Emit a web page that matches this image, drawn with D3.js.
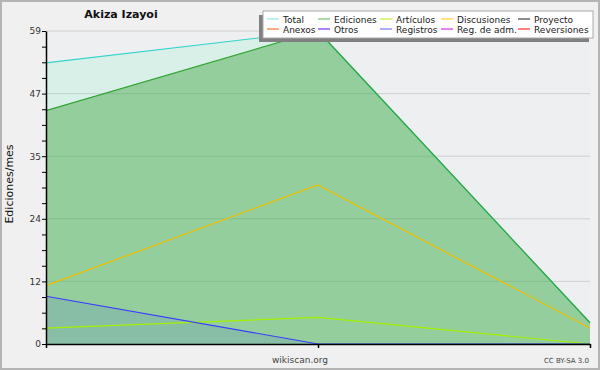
<!DOCTYPE html>
<html>
<head>
<meta charset="utf-8">
<script src="https://cdn.jsdelivr.net/npm/d3@7"></script>
<style>
  body { margin: 0; background: #f0f0f0; }
  svg { display: block; font-family: "DejaVu Sans", sans-serif; }
  .Legend text { font-size: 9px; fill: #222; }
</style>
</head>
<body>
<svg id="chart" width="600" height="370"></svg>
<script>
const TITLE = "Akiza Izayoi";
const Y_LABEL = "Ediciones/mes";

// three monthly points, x axis has no labels in the picture
const periods = ["m1", "m2", "m3"];
const total = [53, 59, 4];
const edits = [44, 59, 4];
const discussions = [11, 30, 3];
const articles = [3, 5, 0];
const registros = [9, 0, 0];

const Y_MAX = 59;

const legendNames = [
  ["Total", "Ediciones", "Artículos", "Discusiones", "Proyecto"],
  ["Anexos", "Otros", "Registros", "Reg. de adm.", "Reversiones"]
];
const legendColors = [
  ["#a6e8e4", "#8ed08e", "#d2f25a", "#ffd65a", "#666666"],
  ["#ff935a", "#935aff", "#9393ff", "#e05af0", "#ff5a5a"]
];

const svg = d3.select("#chart");
const width = 600, height = 370;
const margin = {top: 31, right: 10, bottom: 26, left: 46};
const innerWidth = width - margin.left - margin.right;
const innerHeight = height - margin.top - margin.bottom;

// Frame.
svg.append("rect")
  .attr("x", 1).attr("y", 1)
  .attr("width", width - 2).attr("height", height - 2)
  .attr("fill", "#f0f0f0")
  .attr("stroke", "#b4b4b4")
  .attr("stroke-width", 2);

const xScale = d3.scalePoint()
  .domain(periods)
  .range([0, innerWidth]);
const yScale = d3.scaleLinear()
  .domain([0, Y_MAX])
  .range([innerHeight, 0]);

const g = svg.append("g")
  .attr("transform", `translate(${margin.left}, ${margin.top})`);

g.append("rect")
  .attr("width", innerWidth)
  .attr("height", innerHeight)
  .attr("fill", "#eeeff1");

// 20 steps, labels every 4th
const yTicks = d3.range(0, 21).map((i) => i * Y_MAX / 20);
const yMajor = yTicks.filter((v, i) => i % 4 === 0);

// Gridlines.
g.append("g")
  .selectAll("line")
  .data(yMajor.slice(1))
  .join("line")
  .attr("x1", 0)
  .attr("x2", innerWidth)
  .attr("y1", (v) => yScale(v))
  .attr("y2", (v) => yScale(v))
  .attr("stroke", "#d0d0d0");

// Areas.
const points = (vals) => periods.map((p, i) => ({p, v: vals[i]}));
const area = d3.area()
  .x((d) => xScale(d.p))
  .y0(innerHeight)
  .y1((d) => yScale(d.v));
const line = d3.line()
  .x((d) => xScale(d.p))
  .y((d) => yScale(d.v));

g.append("path")
  .attr("d", area(points(total)))
  .attr("fill", "rgba(98, 245, 188, 0.15)");
g.append("path")
  .attr("d", area(points(edits)))
  .attr("fill", "rgba(51, 160, 51, 0.42)");
g.append("path")
  .attr("d", area(points(registros)))
  .attr("fill", "rgba(48, 48, 255, 0.1)");

// Lines.
const series = [
  {vals: total, color: "#33d4cb"},
  {vals: edits, color: "#35a535"},
  {vals: discussions, color: "#f0c000"},
  {vals: articles, color: "#a4f000"},
  {vals: registros, color: "#3a3aff"}
];
series.forEach((s) => {
  g.append("path")
    .attr("d", line(points(s.vals)))
    .attr("fill", "none")
    .attr("stroke", s.color)
    .attr("stroke-width", 1.2);
});

// Axes.
const yAxis = d3.axisLeft(yScale)
  .tickValues(yTicks)
  .tickSizeInner(4)
  .tickSizeOuter(0)
  .tickFormat((v) => yMajor.includes(v) ? d3.format(".0f")(v) : "");
const gY = g.append("g").call(yAxis);
gY.select(".domain").attr("stroke", "#000").attr("stroke-width", 1.5);
gY.selectAll(".tick line").attr("stroke", "#000");
gY.selectAll(".tick text")
  .attr("font-family", "DejaVu Sans")
  .attr("font-size", 9)
  .attr("fill", "#333")
  .attr("x", -5);

const xAxis = d3.axisBottom(xScale)
  .tickSizeInner(4)
  .tickSizeOuter(0)
  .tickFormat("");
const gX = g.append("g")
  .attr("transform", `translate(0, ${innerHeight})`)
  .call(xAxis);
gX.select(".domain").attr("stroke", "#000").attr("stroke-width", 1.5);
gX.selectAll(".tick line").attr("stroke", "#000").attr("stroke-width", 1.5);

// Texts.
svg.append("text")
  .attr("x", 121)
  .attr("y", 18)
  .attr("text-anchor", "middle")
  .attr("font-size", 11)
  .attr("font-weight", "bold")
  .attr("fill", "#111")
  .text(TITLE);

svg.append("text")
  .attr("transform", `translate(13, 184) rotate(-90)`)
  .attr("text-anchor", "middle")
  .attr("font-size", 11)
  .attr("fill", "#111")
  .text(Y_LABEL);

svg.append("text")
  .attr("x", 300)
  .attr("y", 363)
  .attr("text-anchor", "middle")
  .attr("font-size", 9)
  .attr("fill", "#444")
  .text("wikiscan.org");

svg.append("text")
  .attr("x", 589)
  .attr("y", 363)
  .attr("text-anchor", "end")
  .attr("font-size", 7)
  .attr("fill", "#444")
  .text("CC BY-SA 3.0");

// Legend.
const gLegend = svg.append("g").attr("class", "Legend");
const legendBox = {x: 263, y: 11, w: 330, h: 27};
gLegend.append("rect")
  .attr("x", legendBox.x - 4).attr("y", legendBox.y + 4)
  .attr("width", legendBox.w).attr("height", legendBox.h)
  .attr("fill", "#808080");
gLegend.append("rect")
  .attr("x", legendBox.x).attr("y", legendBox.y)
  .attr("width", legendBox.w).attr("height", legendBox.h)
  .attr("fill", "#fff")
  .attr("stroke", "#a8a8a8");

const colX = [267, 318, 380, 441, 518];
const rowY = [19, 29];
legendNames.forEach((row, r) => {
  row.forEach((name, c) => {
    gLegend.append("line")
      .attr("x1", colX[c]).attr("x2", colX[c] + 12)
      .attr("y1", rowY[r]).attr("y2", rowY[r])
      .attr("stroke", legendColors[r][c])
      .attr("stroke-width", 1.5);
    gLegend.append("text")
      .attr("x", colX[c] + 16)
      .attr("y", rowY[r] + 3.5)
      .text(name);
  });
});
</script>
</body>
</html>
